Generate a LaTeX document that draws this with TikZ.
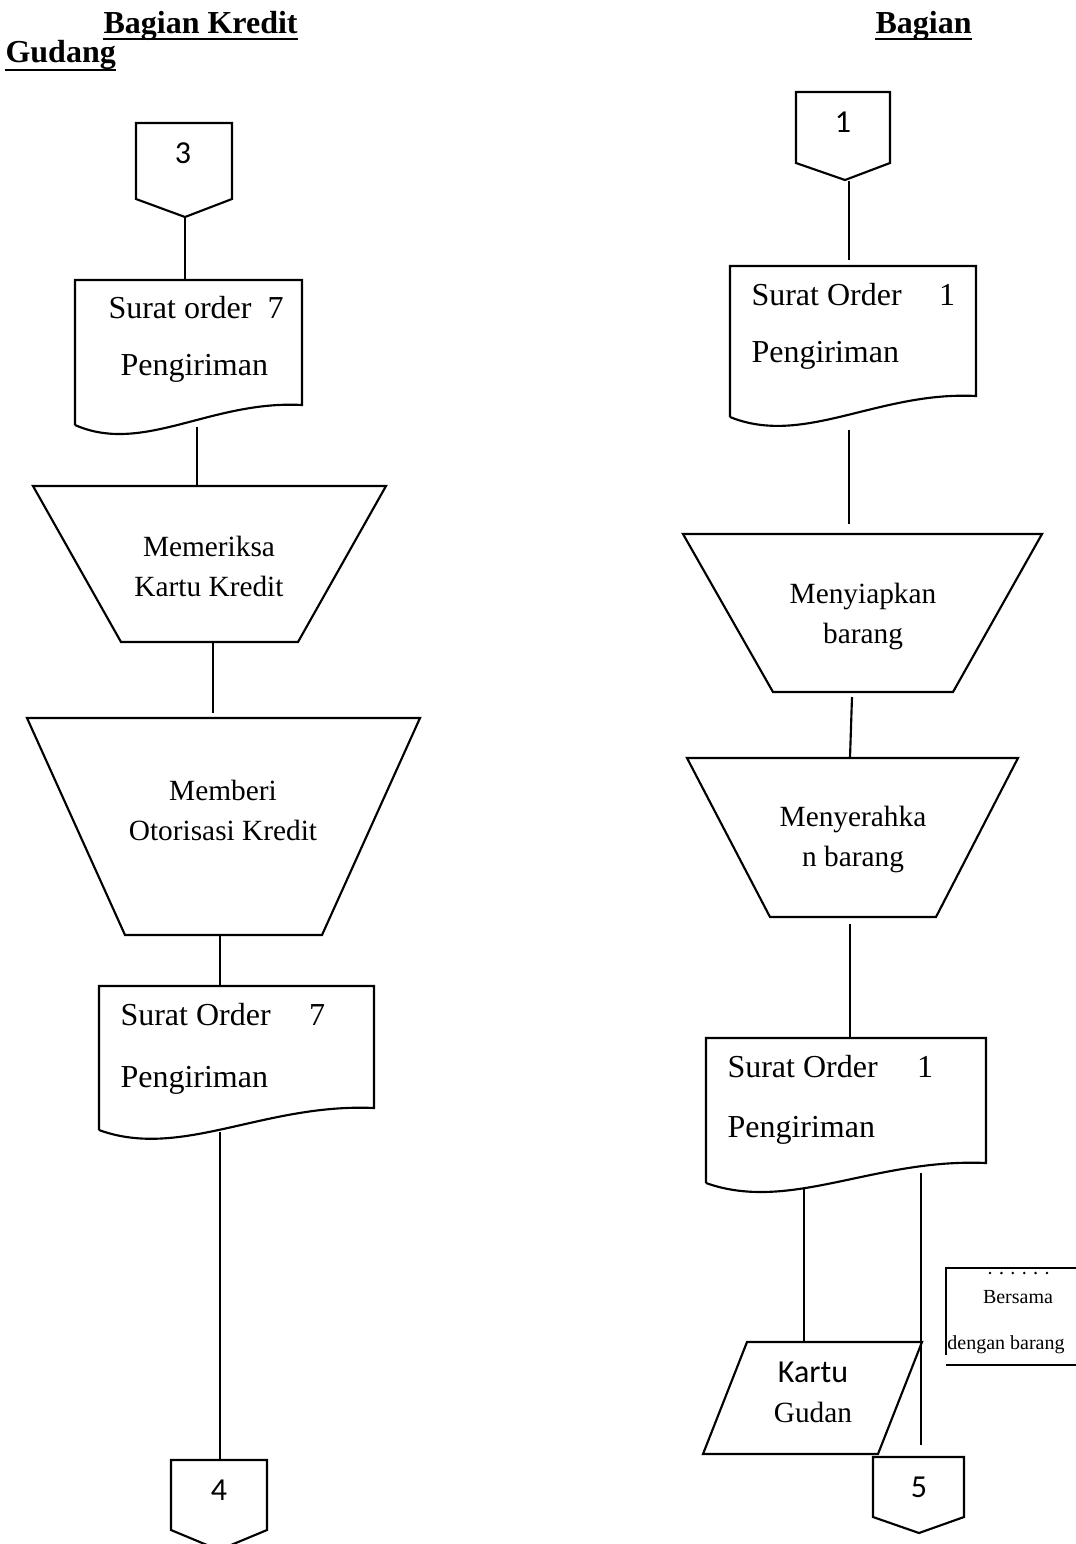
\documentclass[tikz,border=0pt]{standalone}
\usepackage{fontspec}
\setmainfont{Liberation Serif}
\newfontfamily\calibri{Carlito}
\usepackage{tikz}
\usetikzlibrary{calc}

\tikzset{
    flowline/.style={line width=0.8pt},
    shapeline/.style={line width=0.8pt, line join=miter},
    headtext/.style={font=\fontsize{12}{14}\selectfont\bfseries, inner sep=0pt},
    doctext/.style={font=\fontsize{12}{14}\selectfont, inner sep=0pt},
    proctext/.style={font=\fontsize{11}{15}\selectfont, align=center, inner sep=0pt},
    numtext/.style={font=\calibri\fontsize{12}{14}\selectfont, inner sep=0pt},
    notetext/.style={font=\fontsize{7.5}{9}\selectfont, inner sep=0pt}
}

\begin{document}
\begin{tikzpicture}[x=0.375pt, y=-0.375pt]
    %%Background
    \useasboundingbox (0,0) rectangle (1076,1544);

    %% Headers
    \node[headtext, anchor=base west] (hKredit) at (103,33) {Bagian Kredit};
    \node[headtext, anchor=base west] (hBagian) at (875,33) {Bagian};
    \node[headtext, anchor=base west] (hGudang) at (5,62) {Gudang};
    \draw[line width=1.1pt] (hKredit.base west) ++(0,6) -- ($(hKredit.base east)+(0,6)$);
    \draw[line width=1.1pt] (hBagian.base west) ++(0,6) -- ($(hBagian.base east)+(0,6)$);
    \draw[line width=1.1pt] (hGudang.base west) ++(0,8) -- ($(hGudang.base east)+(0,8)$);

    %% Bagian Kredit
    %connector 3
    \draw[shapeline] (136,123) -- (232,123) -- (232,199) -- (185,217) -- (136,199) -- cycle;
    \coordinate (c3out) at (185,217);
    \node[numtext] (num3) at (183,153) {3};

    %surat order
    \draw[shapeline] (75,425) -- (75,280) -- (302,280) -- (302,405)
    .. controls (211,400) and (143,455) .. (75,425);
    \coordinate (d1in) at (185,280);
    \coordinate (d1out) at (197,427);
    \node[doctext, anchor=west] (d1a) at (108,308) {Surat order\ \ 7};
    \node[doctext, anchor=west] (d1b) at (120,368) {Pengiriman};

    %memeriksa
    \draw[shapeline] (33,486) -- (386,486) -- (298,642) -- (121,642) -- cycle;
    \coordinate (t1in) at (197,486);
    \coordinate (t1out) at (213,642);
    \node[proctext] (t1) at (209,566) {Memeriksa\\Kartu Kredit};

    %memberi otorisasi
    \draw[shapeline] (27,718) -- (420,718) -- (322,935) -- (125,935) -- cycle;
    \coordinate (t2in) at (213,713);
    \coordinate (t2out) at (220,935);
    \node[proctext] (t2) at (223,810) {Memberi\\Otorisasi Kredit};

    %surat order
    \draw[shapeline] (99,1130) -- (99,986) -- (374,986) -- (374,1108)
    .. controls (264,1103) and (181,1160) .. (99,1130);
    \coordinate (d2in) at (220,986);
    \coordinate (d2out) at (220,1132);
    \node[doctext, anchor=west] (d2a) at (120,1015) {Surat Order};
    \node[doctext] (d2n) at (317,1015) {7};
    \node[doctext, anchor=west] (d2b) at (120,1080) {Pengiriman};

    %connector 4
    \draw[shapeline] (171,1460) -- (267,1460) -- (267,1530) -- (219,1550) -- (171,1530) -- cycle;
    \coordinate (c4in) at (220,1460);
    \node[numtext] (num4) at (219,1490) {4};

    \draw[flowline] (c3out) -- (d1in);
    \draw[flowline] (d1out) -- (t1in);
    \draw[flowline] (t1out) -- (t2in);
    \draw[flowline] (t2out) -- (d2in);
    \draw[flowline] (d2out) -- (c4in);

    %% Bagian Gudang
    %connector 1
    \draw[shapeline] (796,92) -- (890,92) -- (890,163) -- (845,180) -- (796,163) -- cycle;
    \coordinate (c1out) at (849,181);
    \node[numtext] (num1) at (843,122) {1};

    %surat order
    \draw[shapeline] (730,417) -- (730,266) -- (976,266) -- (976,396)
    .. controls (878,391) and (804,447) .. (730,417);
    \coordinate (d3in) at (849,260);
    \coordinate (d3out) at (849,430);
    \node[doctext, anchor=west] (d3a) at (751,295) {Surat Order};
    \node[doctext] (d3n) at (947,295) {1};
    \node[doctext, anchor=west] (d3b) at (751,355) {Pengiriman};

    %menyiapkan
    \draw[shapeline] (683,534) -- (1042,534) -- (953,692) -- (773,692) -- cycle;
    \coordinate (t3in) at (849,524);
    \coordinate (t3out) at (852,697);
    \node[proctext] (t3) at (863,616) {Menyiapkan\\barang};

    %menyerahkan
    \draw[shapeline] (687,758) -- (1018,758) -- (936,917) -- (770,917) -- cycle;
    \coordinate (t4in) at (850,758);
    \coordinate (t4out) at (850,924);
    \node[proctext] (t4) at (853,839) {Menyerahka\\n barang};

    %surat order
    \draw[shapeline] (706,1183) -- (706,1038) -- (986,1038) -- (986,1163)
    .. controls (874,1158) and (790,1213) .. (706,1183);
    \coordinate (d4in) at (850,1038);
    \coordinate (d4outA) at (804,1188);
    \coordinate (d4outB) at (921,1173);
    \node[doctext, anchor=west] (d4a) at (727,1067) {Surat Order};
    \node[doctext] (d4n) at (925,1067) {1};
    \node[doctext, anchor=west] (d4b) at (727,1130) {Pengiriman};

    %kartu gudang
    \draw[shapeline] (747,1342) -- (922,1342) -- (878,1454) -- (703,1454) -- cycle;
    \coordinate (kgin) at (804,1342);
    \node[numtext] (kg1) at (813,1372) {Kartu};
    \node[doctext, font=\fontsize{11}{13}\selectfont] (kg2) at (813,1412) {Gudan};

    %connector 5
    \draw[shapeline] (873,1457) -- (964,1457) -- (964,1517) -- (919,1533) -- (873,1517) -- cycle;
    \coordinate (c5near) at (921,1445);
    \node[numtext] (num5) at (919,1487) {5};

    \draw[flowline] (c1out) -- (d3in);
    \draw[flowline] (d3out) -- (t3in);
    \draw[flowline] (t3out) -- (t4in);
    \draw[flowline] (t4out) -- (d4in);
    \draw[flowline] (d4outA) -- (kgin);
    \draw[flowline] (d4outB) -- (c5near);

    %note
    \draw[shapeline] (1076,1268) -- (946,1268) -- (946,1355);
    \draw[shapeline] (946,1365) -- (1076,1365);
    \foreach \i in {0,...,5}
        \fill (990+\i*11.4,1273) circle (1.4);
    \node[notetext] (note1) at (1018,1297) {Bersama};
    \node[notetext] (note2) at (1006,1345) {dengan barang};

\end{tikzpicture}
\end{document}
